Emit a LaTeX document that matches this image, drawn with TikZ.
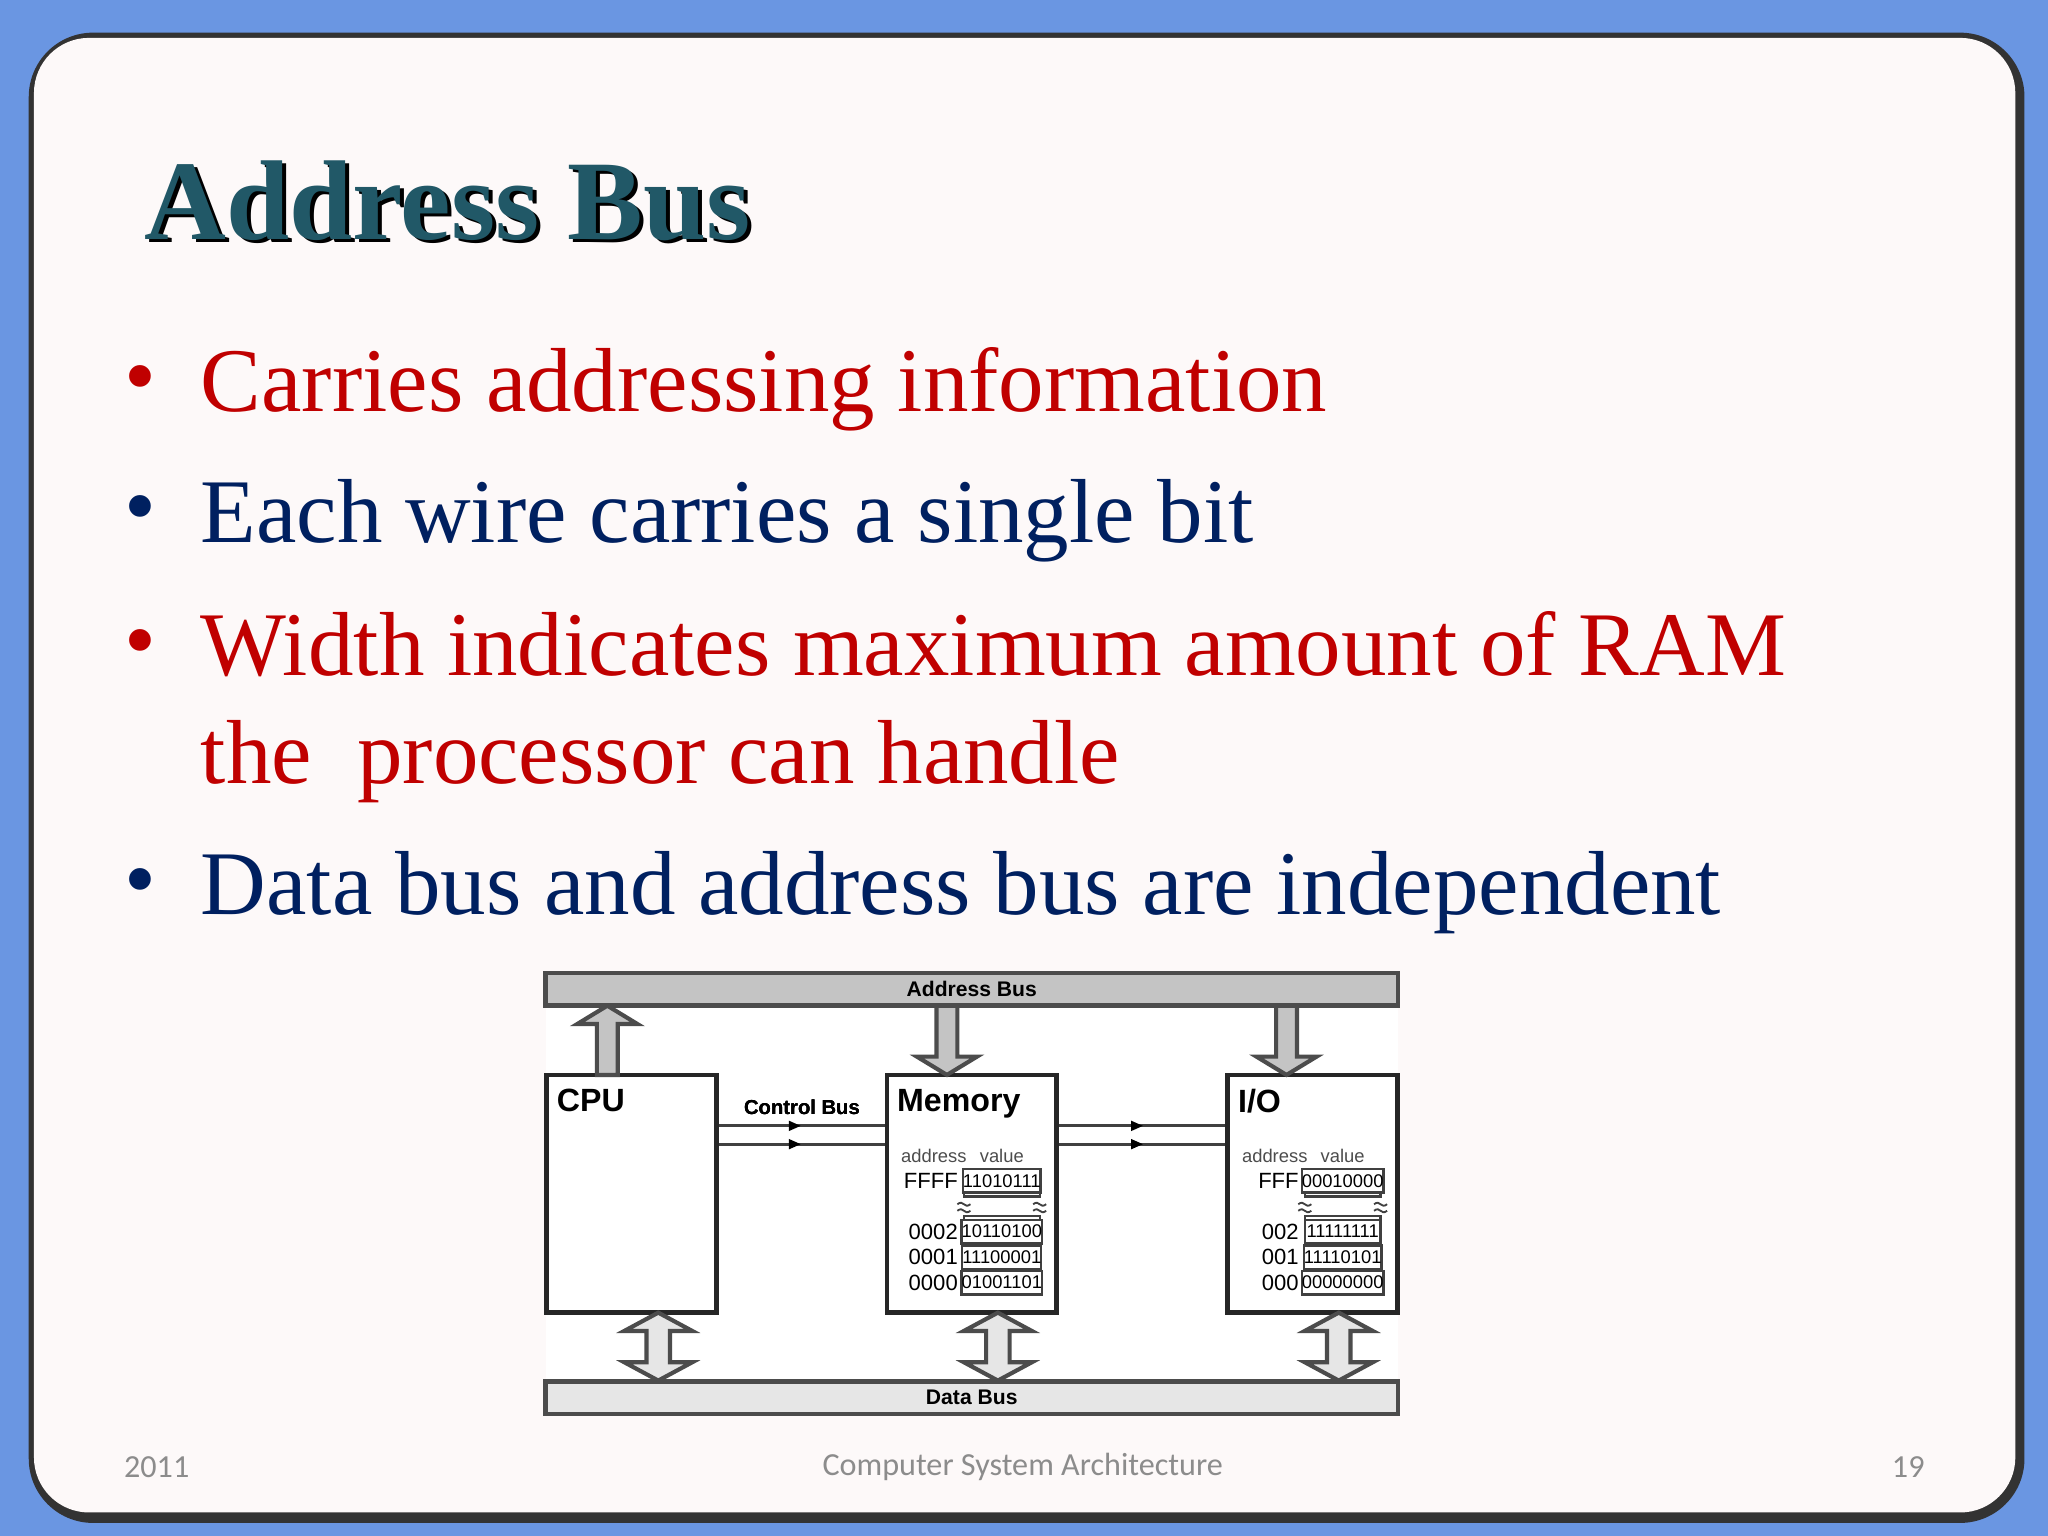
\documentclass[tikz,border=0pt]{standalone}
\usepackage{fontspec}
\setmainfont{Liberation Serif}
\newfontfamily\diafont{Liberation Sans}
\newfontfamily\footfont{Carlito}
\definecolor{slideblue}{HTML}{6A96E2}
\definecolor{slidebg}{HTML}{FDF9F9}
\definecolor{titleteal}{HTML}{215867}
\definecolor{bulred}{HTML}{C00000}
\definecolor{bulblue}{HTML}{002060}
\definecolor{busgray}{HTML}{C4C4C4}
\definecolor{datagray}{HTML}{E6E6E6}
\definecolor{footgray}{HTML}{8C8C8C}
\newcommand{\fatup}[4]{% x, bottom y, top y, fill
  \filldraw[draw=black!70,fill=#4,line width=0.9pt] (#1-8,#2) -- (#1-8,#3+14) -- (#1-23,#3+14) -- (#1,#3) -- (#1+23,#3+14) -- (#1+8,#3+14) -- (#1+8,#2) -- cycle;}
\newcommand{\fatdown}[4]{% x, top y, bottom y, fill
  \filldraw[draw=black!70,fill=#4,line width=0.9pt] (#1-8,#2) -- (#1-8,#3-14) -- (#1-23,#3-14) -- (#1,#3) -- (#1+23,#3-14) -- (#1+8,#3-14) -- (#1+8,#2) -- cycle;}
\newcommand{\fatboth}[3]{% x, top y, bottom y
  \filldraw[draw=black!70,fill=datagray,line width=0.9pt] (#1,#2) -- (#1+26,#2+14) -- (#1+9,#2+14) -- (#1+9,#3-14) -- (#1+26,#3-14) -- (#1,#3) -- (#1-26,#3-14) -- (#1-9,#3-14) -- (#1-9,#2+14) -- (#1-26,#2+14) -- cycle;}
\tikzset{
  bullet/.style={anchor=base west, font=\fontsize{19.8}{22}\selectfont, inner sep=0pt},
  unit/.style={draw=black!85, line width=1pt, fill=white, minimum width=1.3cm, minimum height=1.82cm, inner sep=0pt},
  bus/.style={draw=black!70, line width=1pt, minimum width=6.52cm, minimum height=0.25cm, inner sep=0pt, font=\diafont\bfseries\fontsize{4.6}{5}\selectfont},
  unitname/.style={anchor=north west, font=\diafont\bfseries\fontsize{7}{8}\selectfont, inner sep=0pt},
  tiny/.style={font=\diafont\fontsize{4}{5}\selectfont, inner sep=0pt},
  cell/.style={draw=black!75, line width=0.5pt, minimum width=0.58cm, minimum height=0.18cm, inner sep=0pt, font=\diafont\fontsize{4}{5}\selectfont},
  addrlab/.style={anchor=east, font=\diafont\fontsize{4.8}{5}\selectfont, inner sep=0pt},
  foot/.style={font=\footfont\fontsize{7}{8}\selectfont, text=footgray, inner sep=0pt}
}
\begin{document}
\begin{tikzpicture}[x=0.01cm, y=-0.01cm]
  \useasboundingbox (0,0) rectangle (1568,1176);
  \fill[slideblue] (0,0) rectangle (1568,1176);
  \fill[black!80, rounded corners=14] (22,25) rectangle (1550,1166);
  \fill[slidebg, rounded corners=12] (26,29) rectangle (1543,1158);
  % title
  \node[anchor=base west, inner sep=0pt, font=\bfseries\fontsize{24.7}{28}\selectfont, text=black] at (113,186) {Address Bus};
  \node (title) [anchor=base west, inner sep=0pt, font=\bfseries\fontsize{24.7}{28}\selectfont, text=titleteal] at (110,183) {Address Bus};
  % bullets
  \foreach \y/\c/\t [count=\i] in {315/bulred/Carries addressing information, 415/bulblue/Each wire carries a single bit, 517/bulred/Width indicates maximum amount of RAM, 700/bulblue/Data bus and address bus are independent}
    \node (b\i) [bullet, text=\c] at (153,\y) {\t};
  \node (b3b) [bullet, text=bulred] at (153,600) {the\ \ processor can handle};
  \foreach \y/\c in {315/bulred, 415/bulblue, 517/bulred, 700/bulblue}
    \node[bullet, text=\c] at (95,\y-4) {\textbullet};
  % diagram
  \fill[white] (418,745) rectangle (1070,1083);
  \node (addr) [bus, fill=busgray] at (744,757.5) {Address Bus};
  \node (data) [bus, fill=datagray] at (744,1070) {Data Bus};
  \node (cpu) [unit] at (483.5,914) {};
  \node (mem) [unit] at (744,914) {};
  \node (io) [unit] at (1005,914) {};
  \node[unitname] at ([shift={(9,12)}]cpu.north west) {CPU};
  \node[unitname] at ([shift={(9,12)}]mem.north west) {Memory};
  \node[unitname] at ([shift={(9,12)}]io.north west) {I/O};
  % bus arrows
  \fatup{465}{823}{770}{busgray}
  \fatdown{725}{770}{823}{busgray}
  \fatdown{985}{770}{823}{busgray}
  \foreach \x in {504,764,1025}
    \fatboth{\x}{1005}{1057}
  % control bus
  \node[inner sep=0pt, font=\diafont\bfseries\fontsize{4.4}{5}\selectfont] (ctl) at (614,848) {Control Bus};
  \foreach \y in {862,876} {
    \draw[black!75, line width=0.7pt] (cpu.east |- 0,\y) -- (mem.west |- 0,\y);
    \draw[black!75, line width=0.7pt] (mem.east |- 0,\y) -- (io.west |- 0,\y);
    \fill (604,\y-4) -- (613,\y) -- (604,\y+4) -- cycle;
    \fill (866,\y-4) -- (875,\y) -- (866,\y+4) -- cycle;
  }
  % memory tables
  \foreach \u/\ax/\cx/\ta/\ra/\rb/\rc/\va/\vb/\vc/\vd in {%
      mem/715/767/FFFF/0002/0001/0000/11010111/10110100/11100001/01001101,
      io/976/1028/FFF/002/001/000/00010000/11111111/11110101/00000000} {
    \node[tiny, text=black!70] at (\ax,885) {address};
    \node[tiny, text=black!70] at (\cx,885) {value};
    \node[cell] (\u top) at (\cx,904) {\va};
    \draw[black!75, line width=0.5pt] (\cx-29,913) -- (\cx-29,916) -- (\cx+29,916) -- (\cx+29,913);
    \draw[black!75, line width=0.5pt] (\cx-29,934) -- (\cx-29,931) -- (\cx+29,931) -- (\cx+29,934);
    \foreach \s in {-29,29}
      \draw[black!75, line width=0.4pt] (\cx+\s-5,922) .. controls (\cx+\s,918) and (\cx+\s,926) .. (\cx+\s+5,922)
        (\cx+\s-5,927) .. controls (\cx+\s,923) and (\cx+\s,931) .. (\cx+\s+5,927);
    \node[cell] (\u c2) at (\cx,943) {\vb};
    \node[cell] (\u c1) at (\cx,962.5) {\vc};
    \node[cell] (\u c0) at (\cx,982) {\vd};
    \node[addrlab] at (\cx-33,904) {\ta};
    \node[addrlab] at (\cx-33,943) {\ra};
    \node[addrlab] at (\cx-33,962.5) {\rb};
    \node[addrlab] at (\cx-33,982) {\rc};
  }
  % footer
  \node[foot] (year) at (120,1123) {2011};
  \node[foot] (course) at (783,1123) {Computer System Architecture};
  \node[foot] (page) at (1461,1123) {19};
\end{tikzpicture}
\end{document}
